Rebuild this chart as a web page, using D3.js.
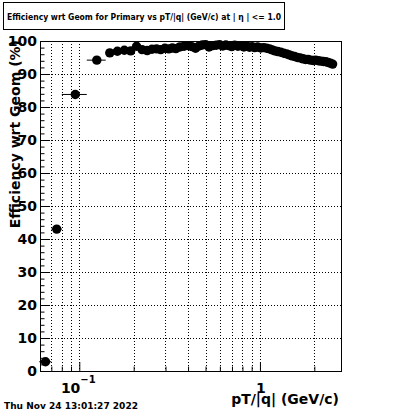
<!DOCTYPE html>
<html>
<head>
<meta charset="utf-8">
<script src="https://cdn.jsdelivr.net/npm/d3@7"></script>
<style>
  body { margin: 0; background: #fff; }
  svg { display: block; font-family: 'DejaVu Sans', sans-serif; font-weight: bold; }
</style>
</head>
<body>
<svg id="chart" width="400" height="414"></svg>
<script>
// bin edges in pT/|q| (GeV/c)
const binEdges = [
  0.06, 0.07, 0.08, 0.11, 0.14, 0.155, 0.17, 0.185, 0.2, 0.215, 0.23, 0.245,
  0.26, 0.275, 0.29, 0.305, 0.32, 0.335, 0.35, 0.37, 0.39, 0.41, 0.43, 0.45,
  0.47, 0.49, 0.51, 0.535, 0.56, 0.585, 0.61, 0.635, 0.66, 0.685, 0.71, 0.74,
  0.77, 0.8, 0.83, 0.86, 0.89, 0.92, 0.95, 0.99, 1.03, 1.07, 1.11, 1.15,
  1.19, 1.23, 1.28, 1.33, 1.38, 1.43, 1.48, 1.53, 1.58, 1.64, 1.7, 1.76,
  1.82, 1.88, 1.94, 2.0, 2.07, 2.14, 2.21, 2.28, 2.35, 2.42, 2.49, 2.56
];

// efficiency (%) per bin
const efficiency = [
  2.8, 43.0, 83.8, 94.2, 96.4, 96.9, 97.2, 97.0, 98.4, 97.4, 97.1,
  97.5, 97.6, 97.4, 97.8, 97.6, 97.9, 97.7, 98.2, 98.4, 98.6, 98.3,
  97.8, 98.5, 98.8, 98.9, 98.2, 98.6, 98.7, 98.9, 98.5, 98.8, 98.6,
  98.3, 98.7, 98.4, 98.6, 98.2, 98.5, 98.1, 98.3, 98.0, 98.2, 97.9,
  98.0, 97.8, 97.6, 97.3, 97.0, 96.8, 96.6, 96.3, 96.1, 95.8, 95.5,
  95.3, 95.0, 94.9, 94.6, 94.4, 94.4, 94.2, 94.1, 94.2, 94.0, 93.9,
  93.8, 93.7, 93.5, 93.3, 93.0
];

const xMajorTicks = [0.1, 1];
const xMinorTicks = [0.07, 0.08, 0.09, 0.2, 0.3, 0.4, 0.5, 0.6, 0.7, 0.8, 0.9, 2];
const yMajorTicks = [0, 10, 20, 30, 40, 50, 60, 70, 80, 90, 100];
const yMinorTicks = d3.range(0, 101, 2);

const titleText = 'Efficiency wrt Geom for Primary vs pT/|q| (GeV/c) at | \u03b7 | <= 1.0';
const dateText = 'Thu Nov 24 13:01:27 2022';

const svg = d3.select('#chart');
const margin = { top: 41, right: 59, bottom: 43, left: 40 };
const width = +svg.attr('width');
const height = +svg.attr('height');
const innerWidth = width - margin.left - margin.right;
const innerHeight = height - margin.top - margin.bottom;

const xScale = d3.scaleLog().domain([0.0606, 2.81]).range([0, innerWidth]);
const yScale = d3.scaleLinear().domain([0, 100]).range([innerHeight, 0]);

const bins = efficiency.map((v, i) => ({
  lo: binEdges[i],
  hi: binEdges[i + 1],
  c: (binEdges[i] + binEdges[i + 1]) / 2,
  v
}));

// title box
svg.append('rect')
  .attr('x', 3.5).attr('y', 2.5)
  .attr('width', 281).attr('height', 27)
  .attr('fill', '#fff').attr('stroke', '#000');
svg.append('text')
  .attr('x', 7).attr('y', 20)
  .attr('font-size', '8px')
  .attr('textLength', 274)
  .attr('lengthAdjust', 'spacingAndGlyphs')
  .text(titleText);

const g = svg.append('g')
  .attr('transform', `translate(${margin.left},${margin.top})`);

// dotted grid
const grid = g.append('g')
  .attr('stroke', '#000')
  .attr('stroke-dasharray', '1,2')
  .attr('shape-rendering', 'crispEdges');
grid.selectAll('line.gx')
  .data(xMajorTicks.concat(xMinorTicks))
  .enter().append('line')
  .attr('x1', d => Math.round(xScale(d)) + 0.5)
  .attr('x2', d => Math.round(xScale(d)) + 0.5)
  .attr('y1', 0).attr('y2', innerHeight);
grid.selectAll('line.gy')
  .data(yMajorTicks.slice(1, -1))
  .enter().append('line')
  .attr('x1', 0).attr('x2', innerWidth)
  .attr('y1', d => Math.round(yScale(d)) + 0.5)
  .attr('y2', d => Math.round(yScale(d)) + 0.5);

// frame
g.append('rect')
  .attr('x', 0.5).attr('y', 0.5)
  .attr('width', innerWidth).attr('height', innerHeight)
  .attr('fill', 'none').attr('stroke', '#000');

// x axis ticks (drawn inward)
g.append('g')
  .attr('transform', `translate(0,${innerHeight})`)
  .call(d3.axisBottom(xScale).tickValues(xMajorTicks).tickSize(-9).tickFormat(''))
  .call(a => a.select('.domain').remove());
g.append('g')
  .attr('transform', `translate(0,${innerHeight})`)
  .call(d3.axisBottom(xScale).tickValues(xMinorTicks).tickSize(-4.5).tickFormat(''))
  .call(a => a.select('.domain').remove());

// y axis ticks
g.append('g')
  .call(d3.axisLeft(yScale).tickValues(yMinorTicks).tickSize(-4.5).tickFormat(''))
  .call(a => a.select('.domain').remove());
g.append('g')
  .call(d3.axisLeft(yScale).tickValues(yMajorTicks).tickSize(-9).tickPadding(3))
  .call(a => a.select('.domain').remove())
  .selectAll('text')
  .attr('font-size', '14px')
  .attr('font-family', 'DejaVu Sans')
  .attr('font-weight', 'bold')
  .attr('fill', '#000');

// x tick labels
const xl = g.append('g').attr('font-size', '14px').attr('text-anchor', 'middle');
xl.append('text')
  .attr('x', xScale(0.1) - 1)
  .attr('y', innerHeight + 22)
  .call(t => t.append('tspan').text('10'))
  .call(t => t.append('tspan').attr('dy', -10).attr('font-size', '10px').text('\u22121'));
xl.append('text')
  .attr('x', xScale(1) + 1)
  .attr('y', innerHeight + 22)
  .text('1');

// error bars and markers
g.selectAll('line.err')
  .data(bins)
  .enter().append('line')
  .attr('x1', d => xScale(d.lo))
  .attr('x2', d => xScale(d.hi))
  .attr('y1', d => yScale(d.v))
  .attr('y2', d => yScale(d.v))
  .attr('stroke', '#000');
g.selectAll('circle')
  .data(bins)
  .enter().append('circle')
  .attr('cx', d => xScale(d.c))
  .attr('cy', d => yScale(d.v))
  .attr('r', 4.7)
  .attr('fill', '#000');

// axis titles
svg.append('text')
  .attr('x', 339).attr('y', 404)
  .attr('text-anchor', 'end')
  .attr('font-size', '14px')
  .text('pT/|q| (GeV/c)');
svg.append('text')
  .attr('transform', 'translate(20,40) rotate(-90)')
  .attr('text-anchor', 'end')
  .attr('font-size', '14px')
  .text('Efficiency wrt Geom (%)');

// date stamp
svg.append('text')
  .attr('x', 4).attr('y', 409)
  .attr('font-size', '9px')
  .attr('textLength', 134)
  .attr('lengthAdjust', 'spacingAndGlyphs')
  .text(dateText);
</script>
</body>
</html>
